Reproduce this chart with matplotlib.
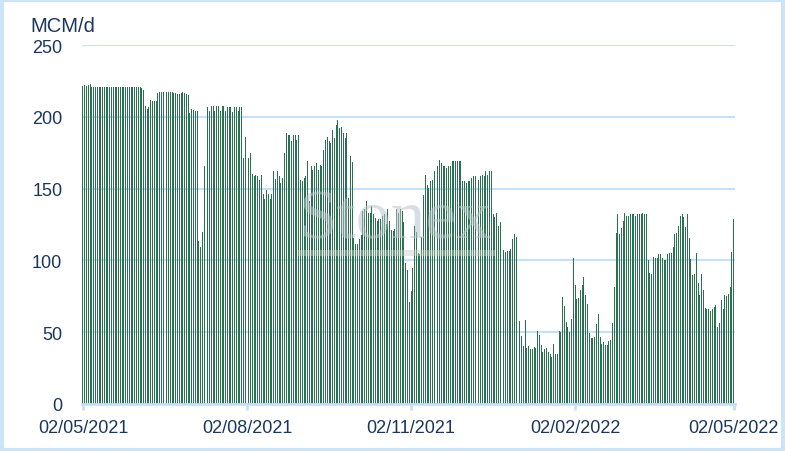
import matplotlib
matplotlib.use("Agg")
import matplotlib.pyplot as plt
from matplotlib.patches import Rectangle
import pandas as pd

# daily flows, MCM/d, from 02/05/2021 to 02/05/2022
may_2021 = [221.5, 222, 221.5, 222, 223, 221, 220.5, 221, 221, 221,
            221, 221, 221, 221, 221, 221, 221, 221, 221, 221,
            221, 221, 221, 221, 221, 221, 221, 221, 221, 221]
jun_2021 = [221, 220.5, 220.5, 220, 219, 207.5, 205.5, 206.5, 211.5, 211,
            211, 211, 216.5, 217.3, 217.3, 217.3, 217.3, 217.3, 217.3, 217,
            217, 216.5, 216.5, 216, 216, 216.5, 217, 216.5, 216, 215.5]
jul_2021 = [202.5, 205.5, 204.5, 204, 204, 113.5, 109, 119.5, 165.5, 204,
            207, 204, 207.5, 207.5, 204, 207.5, 207.5, 204, 207.5, 207.5,
            204, 207, 207, 207, 203.5, 207, 207, 204, 207, 207, 171.5]
aug_2021 = [186, 177, 171, 174.5, 160.5, 158.5, 159.5, 158.5, 156, 159.5,
            146.5, 142.5, 149, 146.5, 142.5, 146.5, 162, 157, 162, 158.5,
            154, 157.5, 174.5, 188.5, 187.5, 187, 183.5, 187, 187, 184, 187.5]
sep_2021 = [156, 155, 157.5, 159, 169.5, 141.5, 166, 163, 166, 168,
            163, 166.5, 166, 177, 184, 186, 183.5, 182, 190.5, 185,
            194.5, 198, 192.5, 193, 189, 185.5, 188.5, 143.5, 173, 168.5]
oct_2021 = [115.5, 111.5, 111.5, 115, 118, 134.5, 136, 141.5, 133, 133,
            138, 132, 129.5, 127.5, 129, 129, 131, 132, 125.5, 136,
            127.5, 121.5, 120.5, 122, 135.5, 133, 135.5, 134.5, 126.5, 98.5, 93.5]
nov_2021 = [71, 79, 95, 124, 120, 105.5, 104.5, 116.5, 145.5, 159.5,
            152.5, 150.5, 155.5, 156, 162, 166, 166, 170, 167.5, 165.5,
            166, 164.5, 165.5, 166, 169, 169.5, 169.5, 169.5, 169.5, 169]
dec_2021 = [155.5, 155, 154, 155, 155.5, 157.5, 158.5, 158.5, 159.5, 156,
            158.5, 159.5, 158.5, 162.5, 159.5, 162.5, 162.5, 132.5, 130.5, 133,
            124, 127, 0, 107.5, 106, 106.5, 106.5, 108, 115, 118.5, 116.5]
jan_2022 = [75.5, 58, 47.5, 40.5, 58.5, 39, 40.5, 38.5, 38.5, 39.5,
            39, 51, 48, 41, 36, 38.5, 39, 36, 35, 32.5,
            42, 35, 35, 51, 50, 74.5, 68.5, 57, 53.5, 50, 59.5]
feb_2022 = [102, 83, 73, 74, 79.5, 83, 88.5, 76, 69.5, 49.5,
            46, 46, 46.5, 56, 63, 46.5, 42, 43, 41, 41,
            44, 44.5, 56.5, 81.5, 119, 132, 118.5, 122.5]
mar_2022 = [127.5, 133, 131, 131, 132.5, 132, 132, 131, 132, 132.5,
            132.5, 133, 132.5, 132.5, 100.5, 91.5, 90.5, 102.5, 102, 102,
            104.5, 104.5, 102, 100.5, 100.5, 104.5, 105.5, 105.5, 109.5, 118.5, 119]
apr_2022 = [124, 131, 132, 130.5, 123.5, 132, 115.5, 101, 90, 90.5,
            105.5, 84.5, 76, 90.5, 79.5, 67, 66, 66, 65, 66,
            67.5, 69, 53.5, 56.5, 72.5, 66, 76, 75.5, 76.5, 81.5]
may_2022 = [106, 129]

tick_labels = ["02/05/2021", "02/08/2021", "02/11/2021", "02/02/2022", "02/05/2022"]
y_ticks = [0, 50, 100, 150, 200, 250]

values = (may_2021 + jun_2021 + jul_2021 + aug_2021 + sep_2021 + oct_2021 +
          nov_2021 + dec_2021 + jan_2022 + feb_2022 + mar_2022 + apr_2022 + may_2022)
dates = pd.date_range("2021-05-02", periods=len(values), freq="D")

navy = "#1b365d"
grid_blue = "#c7e0f5"
bar_green = "#2a7150"

plt.rcParams["font.family"] = ["Liberation Sans", "DejaVu Sans"]

fig = plt.figure(figsize=(7.85, 4.52), dpi=100)
ax = fig.add_axes([0.1041, 0.104, 0.8322, 0.7942])

ax.bar(dates, values, width=0.55, color=bar_green, linewidth=0, zorder=2)

ax.set_ylim(0, 250)
ax.set_yticks(y_ticks)
ax.yaxis.grid(True, color=grid_blue, linewidth=1.5, zorder=0)
ax.set_axisbelow(True)

tick_dates = [pd.to_datetime(t, dayfirst=True) for t in tick_labels]
ax.set_xticks(tick_dates)
ax.set_xticklabels(tick_labels)
ax.set_xlim(dates[0] - pd.Timedelta(hours=17), dates[-1] + pd.Timedelta(hours=17))

for s in ["top", "right", "left"]:
    ax.spines[s].set_visible(False)
ax.spines["bottom"].set_color(grid_blue)
ax.spines["bottom"].set_linewidth(2)
ax.spines["bottom"].set_zorder(3)

ax.tick_params(axis="y", length=0, pad=14, labelsize=13, labelcolor=navy)
ax.tick_params(axis="x", length=4, width=2, color=grid_blue, pad=7,
               labelsize=13, labelcolor=navy)

fig.text(30 / 785, 1 - 32 / 452, "MCM/d", fontsize=14.5, color=navy,
         ha="left", va="baseline")

# faint watermark logo over the bars
fig.text(395 / 785, 1 - 222 / 452, "Stonex", fontsize=50, color="#b9c3cc",
         alpha=0.55, family="Liberation Serif", ha="center", va="center", zorder=5)
fig.patches.append(Rectangle((298 / 785, 1 - 257 / 452), 197 / 785, 6 / 452,
                             transform=fig.transFigure, facecolor="#c9cfc9",
                             edgecolor="none", alpha=0.45, zorder=5))

fig.patches.append(Rectangle((0.002, 0.003), 0.996, 0.994, transform=fig.transFigure,
                             fill=False, edgecolor="#cde4f7", linewidth=3))

fig.savefig("out.png", dpi=100)
